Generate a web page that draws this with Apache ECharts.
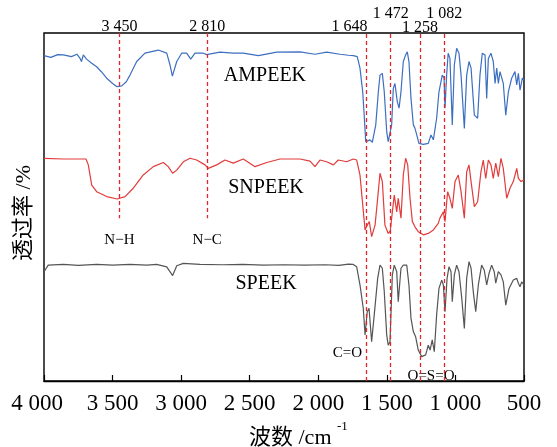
<!DOCTYPE html>
<html><head><meta charset="utf-8">
<script src="https://cdn.jsdelivr.net/npm/echarts@6/dist/echarts.min.js"></script>
<style>html,body{margin:0;padding:0;background:#fff}#c{width:557px;height:447px}</style>
</head><body><div id="c"></div>
<script>
// ---------- DATA (wavenumber cm^-1, transmittance, offset curves) ----------
const ampWn = [4000,3950,3900,3859,3800,3760,3737,3727,3713,3690,3652,3616,3580,3543,3500,3470,3433,3400,3373,3324,3264,3167,3105,3081,3064,3032,2996,2960,2930,2899,2838,2814,2717,2620,2547,2437,2303,2133,2024,1939,1842,1780,1745,1716,1696,1676,1664,1654,1647,1623,1606,1581,1562,1550,1533,1519,1501,1490,1477,1465,1453,1441,1424,1411,1397,1380,1363,1351,1339,1324,1307,1295,1282,1266,1234,1198,1178,1161,1137,1120,1096,1083,1076,1064,1053,1040,1023,1008,991,974,959,935,918,901,886,862,838,821,804,784,772,760,741,724,711,699,687,675,651,633,614,590,566,553,541,529,512,500];
const ampT  = [93.5,93.0,93.8,93.7,93.2,93.9,92.7,91.8,93.7,92.5,91.3,90.3,88.8,87.0,85.5,84.6,84.8,86.0,87.9,91.8,94.2,95.1,94.2,90.8,87.6,91.8,94.2,94.2,92.5,94.2,94.2,93.8,94.5,94.2,94.2,93.5,94.5,94.6,93.9,94.5,93.9,93.6,93.5,93.2,89.9,83.1,75.5,68.8,68.8,69.3,68.6,73.6,83.1,87.9,88.4,83.1,71.6,68.8,69.3,73.6,84.1,85.5,80.3,78.4,83.1,91.8,93.7,94.6,91.8,81.2,73.6,72.6,70.7,68.3,68.0,68.3,70.7,69.3,75.5,83.1,87.9,87.1,78.4,87.9,94.2,92.7,73.6,90.8,95.6,94.2,87.9,72.6,87.9,91.8,89.9,76.4,75.5,87.9,94.2,93.7,81.2,92.7,94.2,91.8,85.5,89.9,85.5,88.9,85.5,76.4,83.1,87.0,88.9,85.1,88.4,83.6,87.0,86.5];

const snWn = [4000,3859,3694,3677,3652,3616,3543,3466,3409,3349,3276,3203,3130,3094,3062,3032,2984,2935,2887,2826,2802,2741,2680,2620,2547,2461,2376,2279,2133,2060,2024,1988,1939,1890,1854,1793,1745,1720,1696,1676,1659,1643,1628,1611,1586,1567,1550,1533,1514,1490,1475,1460,1446,1428,1417,1397,1380,1363,1348,1331,1314,1295,1271,1234,1198,1161,1125,1113,1088,1076,1057,1040,1023,1003,979,959,935,918,901,886,862,838,814,797,779,760,741,724,706,687,668,651,626,602,578,553,541,522,500];
const snT  = [64.0,63.8,63.8,62.1,56.3,54.4,53.0,52.3,53.0,55.4,59.2,61.6,62.8,61.6,59.7,60.6,63.0,64.0,63.5,62.1,61.1,62.1,63.5,62.6,63.8,61.6,62.8,63.8,63.8,63.2,61.6,63.5,63.0,62.1,63.5,63.0,63.8,63.5,59.2,50.6,43.4,44.8,45.8,41.5,44.8,52.5,59.7,57.3,44.8,42.4,43.1,48.6,53.4,48.6,52.5,46.8,59.2,64.0,62.1,52.5,45.8,44.3,42.9,42.0,42.4,43.4,45.3,46.8,48.6,45.8,54.4,52.5,49.6,57.3,59.2,54.4,46.8,60.1,62.1,57.3,50.1,51.5,60.1,63.5,58.2,63.5,62.1,58.2,62.6,58.7,64.0,61.1,52.5,55.4,57.3,61.1,58.2,57.3,57.8];

const spWn = [4000,3969,3859,3750,3616,3500,3373,3250,3178,3105,3062,3032,2984,2863,2700,2550,2400,2250,2100,1950,1850,1780,1745,1720,1696,1672,1659,1643,1630,1611,1592,1567,1550,1533,1519,1501,1490,1477,1460,1446,1428,1417,1397,1380,1355,1339,1324,1307,1290,1271,1246,1217,1198,1185,1169,1154,1137,1120,1100,1088,1076,1061,1047,1032,1023,1008,991,974,954,935,918,901,886,870,852,833,809,790,772,755,736,717,706,687,668,651,633,609,578,553,541,529,517,500];
const spT  = [31.4,33.3,33.5,33.2,33.5,33.3,33.5,33.3,33.5,32.8,30.3,33.1,33.8,33.5,33.4,33.5,33.3,33.4,33.3,33.4,33.2,33.6,33.5,32.8,27.6,20.9,13.2,19.9,20.9,11.3,19.0,29.5,33.3,32.4,25.7,13.2,10.3,11.3,30.5,33.3,31.4,22.8,32.4,33.3,33.3,27.6,18.0,14.2,12.7,8.9,7.0,7.5,10.3,8.9,11.8,8.4,19.0,26.6,29.0,27.6,19.9,29.5,32.8,31.4,22.8,30.5,33.3,31.4,23.8,15.1,29.5,34.3,32.4,25.7,19.9,27.6,33.3,31.9,27.6,30.9,33.3,31.4,28.1,31.4,30.5,28.5,21.8,26.6,29.0,29.5,28.1,27.1,28.5,27.6];

const seriesNames = ['AMPEEK','SNPEEK','SPEEK'];
const peakWn = [3450, 2810, 1648, 1472, 1258, 1082];
const peakLabels = ['3 450','2 810','1 648','1 472','1 258','1 082'];
const groupLabels = ['N\u2212H','N\u2212C','C=O','O=S=O'];
const xTicks = [4000,3500,3000,2500,2000,1500,1000,500];

// ---------- DRAW ----------
const serif = '"Liberation Serif","Times New Roman",serif';
const zip = (a,b)=>a.map((v,i)=>[v,b[i]]);
const chart = echarts.init(document.getElementById('c'), null, {renderer:'canvas'});
const fmt = v => v>=1000 ? Math.floor(v/1000)+' '+String(v%1000).padStart(3,'0') : String(v);

chart.setOption({
  animation:false,
  backgroundColor:'#fff',
  grid:{left:44,right:33,top:33,bottom:66,show:true,borderColor:'#000',borderWidth:1.4,backgroundColor:'transparent'},
  xAxis:{type:'value',min:500,max:4000,interval:500,inverse:true,
    axisLine:{show:true,lineStyle:{color:'#000',width:1.4}},
    axisTick:{show:true,inside:true,length:6,lineStyle:{color:'#000',width:1.2}},
    splitLine:{show:false},
    axisLabel:{color:'#000',fontFamily:serif,fontSize:23,margin:11,
      formatter:v=> v===4000 ? '{s|'+fmt(v)+'}' : fmt(v),
      rich:{s:{fontFamily:serif,fontSize:23,color:'#000',padding:[0,14,0,0]}}}
  },
  yAxis:{type:'value',min:0,max:100,show:false},
  series:[
    {name:seriesNames[0],type:'line',data:zip(ampWn,ampT),showSymbol:false,lineStyle:{color:'#3d6fc0',width:1.2},z:3},
    {name:seriesNames[1],type:'line',data:zip(snWn,snT),showSymbol:false,lineStyle:{color:'#e23b3b',width:1.2},z:3},
    {name:seriesNames[2],type:'line',data:zip(spWn,spT),showSymbol:false,lineStyle:{color:'#555',width:1.2},z:3,
      markLine:{silent:true,symbol:['none','none'],label:{show:false},
        lineStyle:{color:'#e3262e',type:[4,3],width:1.3},
        data:[
          [{coord:[peakWn[0],100]},{coord:[peakWn[0],46.8]}],
          [{coord:[peakWn[1],100]},{coord:[peakWn[1],46.8]}],
          {xAxis:peakWn[2]},{xAxis:peakWn[3]},{xAxis:peakWn[4]},{xAxis:peakWn[5]}
        ]}}
  ]
});

const P = (w,v)=>chart.convertToPixel({gridIndex:0},[w,v]);
const T = (x,y,text,size,align,extra)=>Object.assign({type:'text',x:x,y:y,style:{text:text,fill:'#000',font:size+'px '+serif,align:align||'center',verticalAlign:'middle'}},extra||{});
const g = [];
// peak labels above the frame
const peakY = [26.6,26.6,26.6,13.5,27.5,13.5];
const peakAlign = ['center','center','right','center','center','center'];
peakWn.forEach((w,i)=>{ g.push(T(P(w,0)[0]+(i===2?1:0), peakY[i], peakLabels[i], 16, peakAlign[i])); });
// curve names
const namePos = [[2389,87.6],[2381,55.5],[2381,28.0]];
seriesNames.forEach((n,i)=>{ const p=P(namePos[i][0],namePos[i][1]); g.push(T(p[0],p[1],n,20)); });
// group labels
const grpPos = [[3450,40.4],[2810,40.4],[1788,8.0],[1178,1.4]];
groupLabels.forEach((n,i)=>{ const p=P(grpPos[i][0],grpPos[i][1]); g.push(T(p[0],p[1],n,15)); });
// axis titles
g.push({type:'text',x:24,y:213,rotation:Math.PI/2,style:{text:'透过率 /%',fill:'#000',font:'22px '+serif+',"Noto Sans CJK SC"',align:'center',verticalAlign:'middle'}});
g.push({type:'text',x:249,y:438,style:{text:'波数 /cm',fill:'#000',font:'22px '+serif+',"Noto Sans CJK SC"',align:'left',verticalAlign:'middle'}});
g.push({type:'text',x:337,y:427,style:{text:'-1',fill:'#000',font:'13px '+serif,align:'left',verticalAlign:'middle'}});
chart.setOption({graphic:g});
</script></body></html>
